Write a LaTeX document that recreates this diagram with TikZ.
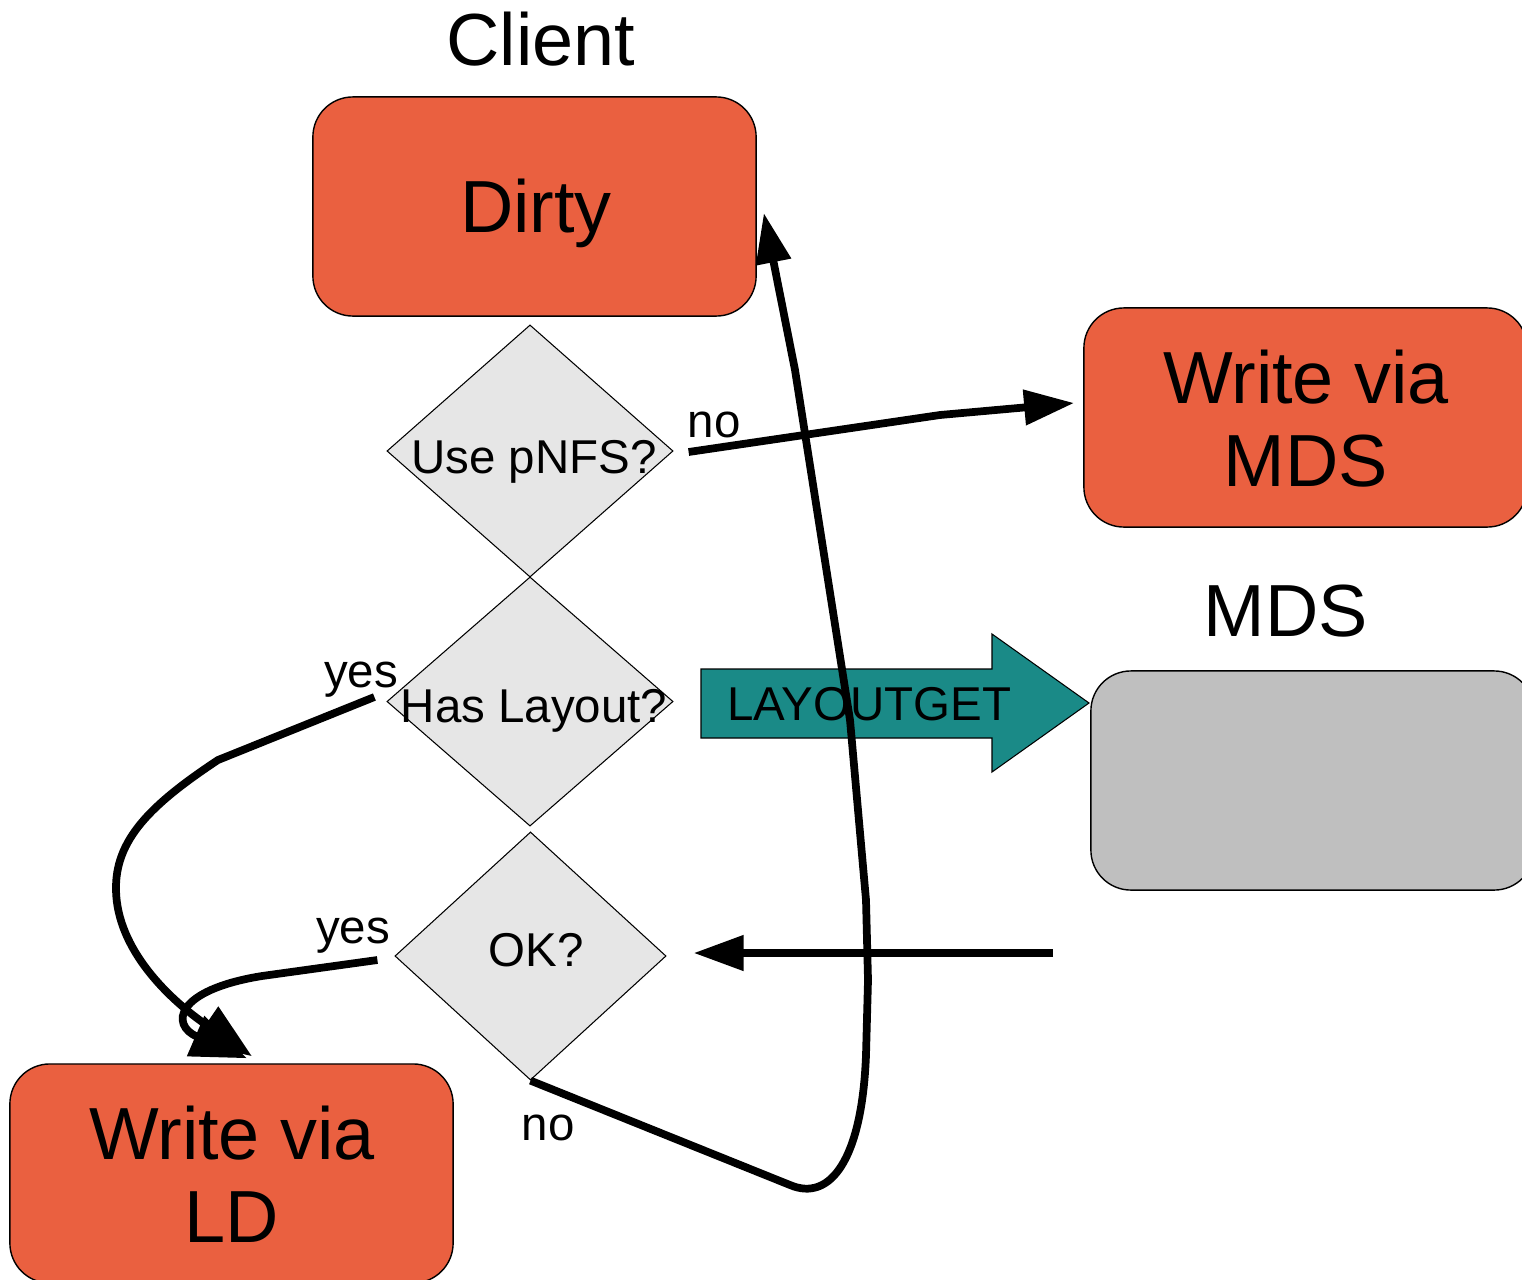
\documentclass[tikz,border=0pt]{standalone}
\usepackage{fontspec}
\setmainfont{Liberation Sans}
\usetikzlibrary{shapes.geometric,arrows.meta,calc}
\definecolor{boxorange}{HTML}{EA6040}
\definecolor{layteal}{HTML}{1A8A87}
\definecolor{boxgray}{HTML}{BFBFBF}
\definecolor{diagray}{HTML}{E6E6E6}
\begin{document}
\begin{tikzpicture}[x=0.01cm,y=-0.01cm,
  stateblock/.style={draw=black,line width=0.4pt,rounded corners=0.4cm,
    minimum width=4.43cm,minimum height=2.19cm,inner sep=0pt},
  decision/.style={shape=diamond,draw=black,line width=0.3pt,fill=diagray,inner sep=0pt},
  bigtext/.style={font=\fontsize{21}{23.6}\selectfont,inner sep=0pt,anchor=base,align=center},
  smalltext/.style={font=\fontsize{13.5}{16}\selectfont,inner sep=0pt,anchor=base},
  flow/.style={line width=2.2pt},
  bigtip/.style={-{Triangle[length=0.5cm,width=0.34cm]}},
  ldtip/.style={-{Triangle[length=0.56cm,width=0.42cm]}}]
\useasboundingbox (0,0) rectangle (1522,1279);

% boxes
\node[stateblock,fill=boxorange] (dirty) at (534.5,206.5) {};
\node[stateblock,fill=boxorange] (wmds) at (1305.5,417.5) {};
\node[stateblock,fill=boxgray] (mds) at (1312.5,780.5) {};
\node[stateblock,fill=boxorange] (ld) at (231.5,1173.5) {};

% decisions
\node[decision,minimum width=2.86cm,minimum height=2.52cm] (d1) at (530,451) {};
\node[decision,minimum width=2.86cm,minimum height=2.49cm] (d2) at (530,701.5) {};
\node[decision,minimum width=2.71cm,minimum height=2.48cm] (d3) at (530.5,956) {};

% texts
\node[bigtext] (tclient) at (541,66) {Client};
\node[bigtext] (tdirty) at (536,232) {Dirty};
\node[bigtext] (twmds) at (1306,486) {Write via\\MDS};
\node[bigtext] (tmds) at (1286,636) {MDS};
\node[bigtext] (tld) at (232,1242) {Write via\\LD};
\node[smalltext] (td1) at (534,473) {Use pNFS?};
\node[smalltext] (td2) at (534,722) {Has Layout?};
\node[smalltext] (td3) at (536,966) {OK?};
\node[smalltext] (tno1) at (714,437) {no};
\node[smalltext] (tyes1) at (361,687) {yes};
\node[smalltext] (tyes2) at (353,943) {yes};
\node[smalltext] (tno2) at (548,1140) {no};

% LAYOUTGET arrow
\draw[line width=0.3pt,fill=layteal] (701,669) -- (992,669) -- (992,634) -- (1089,703)
  -- (992,772) -- (992,738) -- (701,738) -- cycle;
\node[smalltext] (tlg) at (869,720) {LAYOUTGET};

% connectors
\draw[flow,bigtip] ($(d1.east)+(15,1)$) -- (940,415) -- ($(wmds.west)+(-9,-14.5)$);
\coordinate (src) at (1053,953);
\draw[flow,bigtip] (src) -- ($(d3.east)+(27,-3)$);
\draw[flow,ldtip] ($(d2.west)+(-12,-4.5)$) -- (218,760)
  .. controls (150,805) and (115,840) .. (116,890)
  .. controls (117,950) and (170,1000) .. ($(ld.north)+(20.5,-7)$);
\draw[flow,ldtip] ($(d3.west)+(-17,4)$) -- (262,976)
  .. controls (175,990) and (170,1025) .. ($(ld.north)+(15.5,-5)$);
\draw[flow,bigtip] (d3.south) -- (790,1185)
  .. controls (830,1202) and (862,1160) .. (866,1055)
  -- (868,980) -- (866,900) -- (850,720) -- (795,370)
  -- ($(dirty.east)+(7,6.5)$);
\end{tikzpicture}
\end{document}
